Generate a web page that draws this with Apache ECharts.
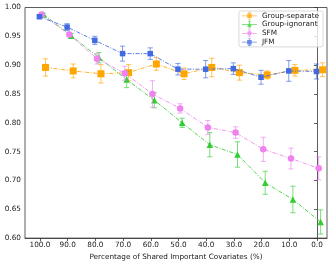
<!DOCTYPE html>
<html><head><meta charset="utf-8">
<script src="https://cdn.jsdelivr.net/npm/echarts@6/dist/echarts.min.js"></script>
<style>html,body{margin:0;padding:0;background:#fff}#c{width:332px;height:266px}</style>
</head><body><div id="c"></div>
<script>
// ---- data ----
const percentages = [100, 90, 80, 70, 60, 50, 40, 30, 20, 10, 0];
const xTickLabels = ['100.0','90.0','80.0','70.0','60.0','50.0','40.0','30.0','20.0','10.0','0.0'];
const yTicks = [0.60, 0.65, 0.70, 0.75, 0.80, 0.85, 0.90, 0.95, 1.00];
const seriesNames = ['Group-separate', 'Group-ignorant', 'SFM', 'JFM'];
const sepMean = [0.896, 0.890, 0.885, 0.887, 0.902, 0.885, 0.896, 0.887, 0.883, 0.891, 0.892];
const sepErr  = [0.015, 0.012, 0.016, 0.014, 0.011, 0.010, 0.016, 0.013, 0.007, 0.010, 0.012];
const ignMean = [0.988, 0.951, 0.913, 0.875, 0.839, 0.800, 0.762, 0.745, 0.696, 0.667, 0.628];
const ignErr  = [0.002, 0.004, 0.009, 0.014, 0.013, 0.008, 0.021, 0.022, 0.020, 0.023, 0.021];
const sfmMean = [0.988, 0.953, 0.911, 0.886, 0.850, 0.825, 0.792, 0.783, 0.754, 0.738, 0.721];
const sfmErr  = [0.002, 0.004, 0.009, 0.012, 0.023, 0.008, 0.012, 0.010, 0.021, 0.018, 0.020];
const jfmMean = [0.984, 0.966, 0.943, 0.920, 0.920, 0.893, 0.893, 0.894, 0.879, 0.890, 0.889];
const jfmErr  = [0.002, 0.006, 0.007, 0.013, 0.010, 0.010, 0.015, 0.010, 0.012, 0.018, 0.013];

// ---- style ----
const colors = ['#FFA500', '#32CD32', '#EE82EE', '#4169E1'];
const symbols = ['rect', 'triangle', 'circle', 'rect'];
const symbolSizes = [7, 6.5, 6.5, 5.5];
const jitter = [-2.0, -1.3, -0.6, 0.2]; // horizontal offset (in % units) per series
const FONT = 'DejaVu Sans';
const FS = 7.3;

const means = [sepMean, ignMean, sfmMean, jfmMean];
const errs = [sepErr, ignErr, sfmErr, jfmErr];

function legendIcon(marker) {
  let m;
  if (marker === 'rect') m = 'M7,2 H13 V8 H7 Z';
  else if (marker === 'triangle') m = 'M10,1.8 L13.2,8 L6.8,8 Z';
  else m = 'M10,2 A3,3 0 1 1 9.99,2 Z';
  return 'path://M0,4.5 H20 V5.5 H0 Z M9.5,0 H10.5 V10 H9.5 Z M8,0 H12 V0.8 H8 Z M8,9.2 H12 V10 H8 Z ' + m;
}

const series = [];
for (let s = 0; s < 4; s++) {
  const pts = percentages.map((p, i) => [p + jitter[s], means[s][i]]);
  const eb = percentages.map((p, i) => [p + jitter[s], means[s][i] - errs[s][i], means[s][i] + errs[s][i]]);
  series.push({
    type: 'custom',
    name: seriesNames[s],
    z: 2 + s * 2,
    silent: true,
    data: eb,
    encode: { x: 0, y: [1, 2] },
    renderItem: (params, api) => {
      const x = api.value(0);
      const lo = api.coord([x, api.value(1)]);
      const hi = api.coord([x, api.value(2)]);
      const cw = 2.6;
      const st = { stroke: colors[s], lineWidth: 1, opacity: 0.65 };
      return { type: 'group', children: [
        { type: 'line', shape: { x1: lo[0], y1: lo[1], x2: hi[0], y2: hi[1] }, style: st },
        { type: 'line', shape: { x1: lo[0] - cw, y1: lo[1], x2: lo[0] + cw, y2: lo[1] }, style: st },
        { type: 'line', shape: { x1: hi[0] - cw, y1: hi[1], x2: hi[0] + cw, y2: hi[1] }, style: st }
      ]};
    },
    itemStyle: { color: colors[s] }
  });
  series.push({
    type: 'line',
    name: seriesNames[s],
    z: 3 + s * 2,
    data: pts,
    symbol: symbols[s],
    symbolSize: symbolSizes[s],
    showAllSymbol: true,
    animation: false,
    itemStyle: { color: colors[s], opacity: 1 },
    lineStyle: { color: colors[s], width: 1, type: [4, 1.5, 1, 1.5], opacity: 0.85 }
  });
}

const chart = echarts.init(document.getElementById('c'), null, { renderer: 'canvas' });
chart.setOption({
  animation: false,
  backgroundColor: '#fff',
  textStyle: { fontFamily: FONT },
  grid: { left: 25, right: 5, top: 7.5, bottom: 24.3, show: true, borderColor: '#333', borderWidth: 0.8, backgroundColor: 'transparent' },
  legend: {
    data: seriesNames.map((n, i) => ({ name: n, icon: legendIcon(symbols[i]), itemStyle: { color: colors[i], opacity: 0.8 } })),
    orient: 'vertical',
    right: 9, top: 11,
    itemWidth: 15, itemHeight: 10, itemGap: 1.3,
    padding: [1, 4, 1, 3],
    backgroundColor: 'rgba(255,255,255,0.8)',
    borderColor: '#d0d0d0', borderWidth: 0.8, borderRadius: 2,
    textStyle: { fontFamily: FONT, fontSize: FS, color: '#222', padding: [0, 0, 0, 0] }
  },
  xAxis: {
    type: 'value', inverse: true, min: -3.6, max: 105.4,
    name: 'Percentage of Shared Important Covariates (%)',
    nameLocation: 'middle', nameGap: 15,
    nameTextStyle: { fontFamily: FONT, fontSize: FS, color: '#222' },
    axisLine: { show: true, onZero: false, lineStyle: { color: '#333', width: 0.8 } },
    axisTick: { show: true, length: 3, customValues: percentages, lineStyle: { color: '#333', width: 0.8 } },
    axisLabel: { customValues: percentages, fontFamily: FONT, fontSize: FS, color: '#222', margin: 4,
      formatter: v => xTickLabels[percentages.indexOf(Math.round(v))] },
    splitLine: { show: false }
  },
  yAxis: {
    type: 'value', min: 0.60, max: 1.00, interval: 0.05,
    axisLine: { show: true, lineStyle: { color: '#333', width: 0.8 } },
    axisTick: { show: true, length: 3, lineStyle: { color: '#333', width: 0.8 } },
    axisLabel: { fontFamily: FONT, fontSize: FS, color: '#222', margin: 4, formatter: v => v.toFixed(2) },
    splitLine: { show: false }
  },
  series: series
});
</script></body></html>
